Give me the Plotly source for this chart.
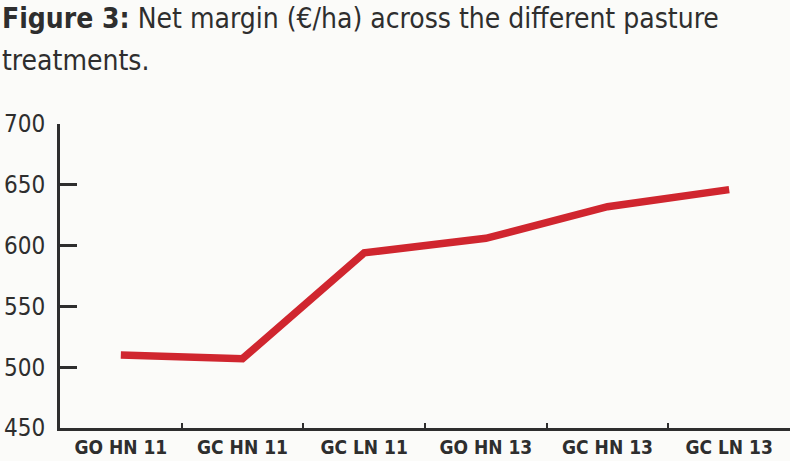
import plotly.graph_objects as go

categories = ["GO HN 11", "GC HN 11", "GC LN 11", "GO HN 13", "GC HN 13", "GC LN 13"]
net_margin = [510, 507, 594, 606, 632, 646]
y_ticks = [450, 500, 550, 600, 650, 700]
title_line1 = "<b>Figure 3:</b> Net margin (€/ha) across the different pasture"
title_line2 = "treatments."

W, H = 790, 461
ML, MR, MT, MB = 60, 0, 124, 33
plot_h = H - MT - MB
plot_w = W - ML - MR


def py(pix):
    return (H - MB - pix) / plot_h


def px(pix):
    return (pix - ML) / plot_w


fig = go.Figure()
fig.add_trace(go.Scatter(
    x=categories, y=net_margin, mode="lines",
    line=dict(color="#d0262f", width=7.5),
    hoverinfo="skip"
))

font_fam = "DejaVu Sans Condensed, sans-serif"
ink = "#2e2e2e"

for txt, ypix in [(title_line1, 19), (title_line2, 60)]:
    fig.add_annotation(
        text=txt, xref="paper", yref="paper",
        x=px(0), y=py(ypix), xanchor="left", yanchor="middle",
        showarrow=False, align="left",
        font=dict(family=font_fam, size=28, color=ink),
    )

fig.update_layout(
    width=W, height=H,
    paper_bgcolor="#fbfbf9", plot_bgcolor="#fbfbf9",
    margin=dict(l=ML, r=MR, t=MT, b=MB),
    showlegend=False,
    xaxis=dict(
        type="category", range=[-0.5, 5.5],
        showgrid=False, zeroline=False,
        showline=True, linecolor=ink, linewidth=3,
        ticks="inside", tickson="boundaries", ticklen=5, tickwidth=2, tickcolor=ink,
        tickfont=dict(family=font_fam, size=19, color=ink, weight="bold"),
    ),
    yaxis=dict(
        range=[450, 700], tickvals=y_ticks,
        showgrid=False, zeroline=False,
        showline=True, linecolor=ink, linewidth=3,
        ticks="inside", ticklen=17, tickwidth=3, tickcolor=ink,
        ticklabelstandoff=7,
        tickfont=dict(family=font_fam, size=24, color=ink),
    ),
)

fig.write_html("out.html", config={"displayModeBar": False},
               post_script="document.body.style.margin='0px';")
